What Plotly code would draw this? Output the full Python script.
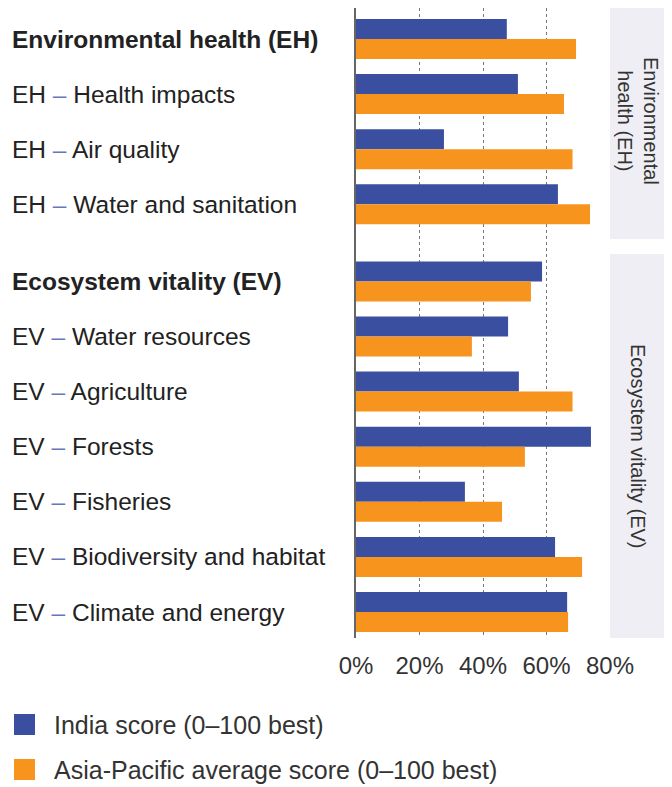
import plotly.graph_objects as go

CATEGORIES = [
    "Environmental health (EH)",
    "EH – Health impacts",
    "EH – Air quality",
    "EH – Water and sanitation",
    "Ecosystem vitality (EV)",
    "EV – Water resources",
    "EV – Agriculture",
    "EV – Forests",
    "EV – Fisheries",
    "EV – Biodiversity and habitat",
    "EV – Climate and energy",
]
GROUPS = ["EH"] * 4 + ["EV"] * 7
INDIA = [47.5, 51.0, 27.7, 63.6, 58.6, 47.9, 51.3, 74.0, 34.3, 62.7, 66.5]
ASIA_PACIFIC = [69.3, 65.5, 68.2, 73.7, 55.1, 36.5, 68.2, 53.2, 46.0, 71.2, 66.8]
X_TICKS = [0, 20, 40, 60, 80]
X_TICK_TEXT = ["0%", "20%", "40%", "60%", "80%"]
PANEL_LABELS = ["Environmental<br>health (EH)", "Ecosystem vitality (EV)"]
LEGEND_NAMES = ["India score (0–100 best)", "Asia-Pacific average score (0–100 best)"]

BLUE = "#3A4FA0"
ORANGE = "#F7941E"
DASH_BLUE = "#6677BB"
TEXT = "#222222"
FONT = "Liberation Sans, Arial, sans-serif"

# the page body adds an 8px margin, so the figure starts at (8, 8) in the window
OFF = 8
W, H = 672 - OFF, 787 - OFF
L, R, T = 356 - OFF, 62, 0
PW = W - L - R
PH = 630
B = H - T - PH


def px_x(x):
    """window x pixel -> paper coordinate"""
    return (x - OFF - L) / PW


def px_y(y):
    """window y pixel -> paper coordinate"""
    return (T + PH - (y - OFF)) / PH


# rows, with a wider gap between the two groups
pos = [i + (0.4 if g == "EV" else 0.0) for i, g in enumerate(GROUPS)]
bar_w = 0.363

fig = go.Figure()
fig.add_trace(go.Bar(
    y=pos, x=INDIA, orientation="h", name=LEGEND_NAMES[0],
    marker_color=BLUE, width=bar_w, offset=-bar_w, marker_line_width=0,
))
fig.add_trace(go.Bar(
    y=pos, x=ASIA_PACIFIC, orientation="h", name=LEGEND_NAMES[1],
    marker_color=ORANGE, width=bar_w, offset=0, marker_line_width=0,
))

shapes = [
    # grey side panels
    dict(type="rect", xref="paper", yref="paper", x0=1.0, x1=px_x(668),
         y0=px_y(239), y1=px_y(8), fillcolor="#EEEEF4", line_width=0, layer="below"),
    dict(type="rect", xref="paper", yref="paper", x0=1.0, x1=px_x(668),
         y0=0, y1=px_y(254), fillcolor="#EEEEF4", line_width=0, layer="below"),
    # legend swatches
    dict(type="rect", xref="paper", yref="paper", x0=px_x(14), x1=px_x(35),
         y0=px_y(735), y1=px_y(714), fillcolor=BLUE, line_width=0),
    dict(type="rect", xref="paper", yref="paper", x0=px_x(14), x1=px_x(35),
         y0=px_y(780), y1=px_y(759), fillcolor=ORANGE, line_width=0),
]

annotations = []
for p, cat in zip(pos, CATEGORIES):
    if " – " in cat:
        head, tail = cat.split(" – ")
        txt = f'{head} <span style="color:{DASH_BLUE}">–</span> {tail}'
    else:
        txt = f"<b>{cat}</b>"
    annotations.append(dict(x=px_x(10), y=p, xref="paper", yref="y", text=txt,
                            xanchor="left", yanchor="middle", showarrow=False,
                            font=dict(size=24.5, color=TEXT, family=FONT)))

annotations.append(dict(x=px_x(638), y=px_y(121), xref="paper", yref="paper",
                        text=PANEL_LABELS[0], textangle=90, showarrow=False,
                        xanchor="center", yanchor="middle",
                        font=dict(size=20, color="#333333", family=FONT)))
annotations.append(dict(x=px_x(638), y=px_y(446), xref="paper", yref="paper",
                        text=PANEL_LABELS[1], textangle=90, showarrow=False,
                        xanchor="center", yanchor="middle",
                        font=dict(size=20, color="#333333", family=FONT)))

for name, yc in zip(LEGEND_NAMES, [724.5, 769.5]):
    annotations.append(dict(x=px_x(52), y=px_y(yc), xref="paper", yref="paper",
                            text=name, xanchor="left", yanchor="middle", showarrow=False,
                            font=dict(size=25, color="#333333", family=FONT)))

fig.update_layout(
    width=W, height=H,
    margin=dict(l=L, r=R, t=T, b=B),
    paper_bgcolor="white", plot_bgcolor="rgba(0,0,0,0)",
    showlegend=False,
    font=dict(family=FONT, color=TEXT),
    shapes=shapes,
    annotations=annotations,
)
fig.update_xaxes(
    range=[0, 80], tickmode="array", tickvals=X_TICKS, ticktext=X_TICK_TEXT,
    showgrid=True, gridcolor="#777777", griddash="dot", gridwidth=1,
    zeroline=False, showline=False, ticks="", ticklabelstandoff=11,
    tickfont=dict(size=24, color="#333333", family=FONT),
)
fig.update_yaxes(
    range=[pos[-1] + 0.472, -0.563], showticklabels=False, showgrid=False,
    zeroline=False, showline=True, linecolor="#666666", linewidth=2, ticks="",
)

fig.write_html("out.html")
